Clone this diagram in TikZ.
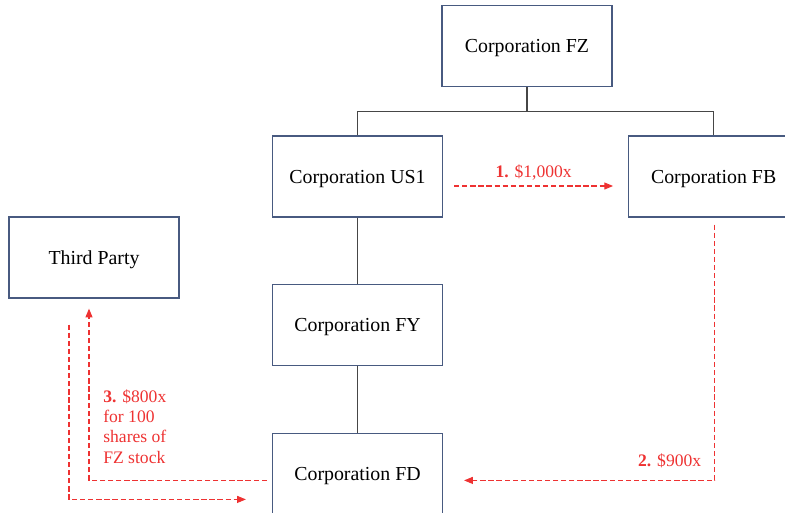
\documentclass[tikz,border=0pt]{standalone}
\usepackage{fontspec}
\setmainfont{Liberation Serif}
\usetikzlibrary{arrows.meta, positioning, calc}
\definecolor{boxline}{RGB}{72,90,128}
\definecolor{linkgray}{RGB}{70,70,70}
\definecolor{flowred}{RGB}{238,50,50}

\begin{document}
\begin{tikzpicture}[
  x=0.02cm, y=-0.02cm,
  block/.style={rectangle, draw=boxline, line width=0.7pt, minimum width=3.4cm,
    minimum height=1.62cm, text depth=0pt, align=center,
    font=\fontsize{11.3}{13}\selectfont},
  own/.style={draw=linkgray, line width=0.7pt},
  flow/.style={-{Triangle[length=5pt,width=4pt]}, draw=flowred, line width=0.6pt,
    dash pattern=on 3pt off 1.6pt},
  amount/.style={text=flowred, font=\fontsize{10}{11.6}\selectfont, inner sep=0pt},
  node distance=1.33cm and 3.7cm
]
\path[use as bounding box, clip] (0,0) rectangle (785,512);

% Entities
\node[block] (us1) at (357.5,176.5) {Corporation US1};
\node[block, right=of us1] (fb) {Corporation FB};
\node[block, above=0.96cm of us1, xshift=3.39cm] (fz) {Corporation FZ};
\node[block, below=of us1] (fy) {Corporation FY};
\node[block, below=of fy] (fd) {Corporation FD};
\node[block] (tp) at (94,257.5) {Third Party};

% Ownership
\coordinate (bus) at ($(fz.south)+(0,24)$);
\draw[own] (fz.south) -- (bus);
\draw[own] (us1.north) |- (bus) -| (fb.north);
\draw[own] (us1) -- (fy);
\draw[own] (fy) -- (fd);

% Payments
\draw[flow] ($(us1.east)+(11,9.5)$) -- node[amount, yshift=0.28cm] (pay1) {\textbf{1.} \$1,000x} ($(fb.west)+(-15,9.5)$);
\draw[flow] ($(fb.south)+(1,7)$) |- node[amount, pos=0.5, anchor=base east, xshift=-0.26cm, yshift=0.28cm] (pay2) {\textbf{2.} \$900x} ($(fd.east)+(21,6.5)$);
\draw[flow] ($(tp.south)+(-25,26)$) |- ($(fd.west)+(-26,25.5)$);
\draw[flow] ($(fd.west)+(-5,6.5)$) -| ($(tp.south)+(-5,10)$);
\node[amount, align=left, anchor=north west] (pay3) at (103,389)
  {\textbf{3.} \$800x\\for 100\\shares of\\FZ stock};
\end{tikzpicture}
\end{document}
